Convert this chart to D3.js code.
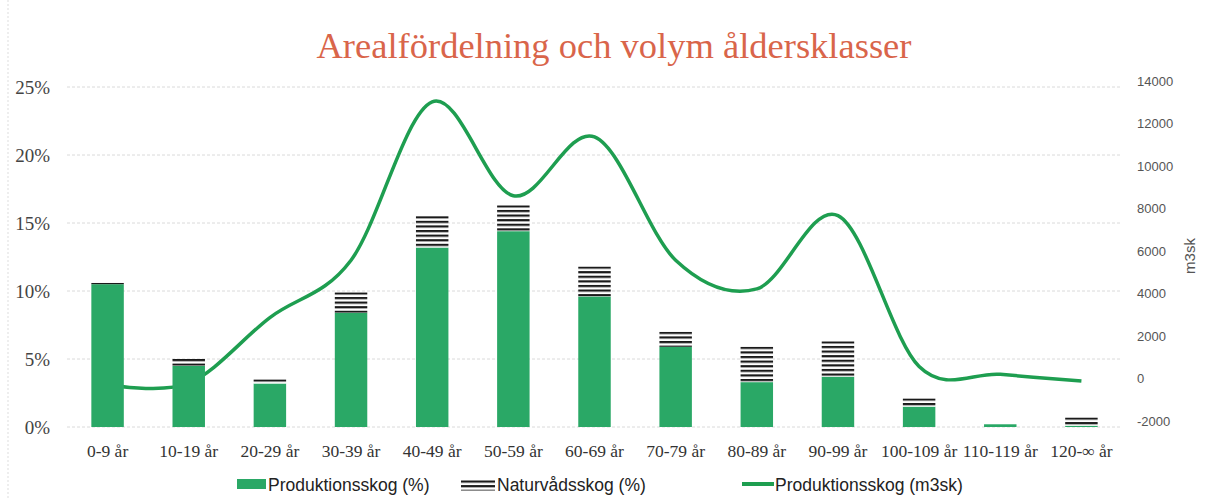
<!DOCTYPE html>
<html>
<head>
<meta charset="utf-8">
<script src="https://cdn.jsdelivr.net/npm/d3@7"></script>
<style>
  body { margin: 0; background: #fff; }
  svg { display: block; }
</style>
</head>
<body>
<div id="chart"></div>
<script>
// data
const categories = ["0-9 år", "10-19 år", "20-29 år", "30-39 år", "40-49 år", "50-59 år", "60-69 år",
  "70-79 år", "80-89 år", "90-99 år", "100-109 år", "110-119 år", "120-∞ år"];
const produktion = [10.5, 4.5, 3.2, 8.4, 13.2, 14.4, 9.6, 5.9, 3.3, 3.7, 1.5, 0.2, 0.1];
const naturvard = [0.1, 0.5, 0.3, 1.5, 2.3, 1.9, 2.2, 1.1, 2.6, 2.6, 0.6, 0.0, 0.6];
const volym = [0, 60, 3150, 5850, 13300, 8880, 11650, 5850, 4500, 7950, 850, 480, 160];
const leftTicks = [0, 5, 10, 15, 20, 25];
const rightTicks = [-2000, 0, 2000, 4000, 6000, 8000, 10000, 12000, 14000];

const width = 1211, height = 499;
const margin = { top: 87, right: 89, bottom: 72, left: 67 };
const serif = "'Liberation Serif', 'Times New Roman', serif";
const sans = "'Liberation Sans', Arial, sans-serif";
const green = "#2aa866";
const lineGreen = "#1e9e50";
const stripeStep = 4.6;

const svg = d3.select("#chart")
  .append("svg")
  .attr("width", width)
  .attr("height", height);

const defs = svg.append("defs");

// one stripe pattern per bar so the stripes start with black at the top of the segment
function addStripes(id, y0) {
  const pat = defs.append("pattern")
    .attr("id", id)
    .attr("patternUnits", "userSpaceOnUse")
    .attr("patternTransform", `translate(0,${y0})`)
    .attr("width", 8)
    .attr("height", stripeStep);
  pat.append("rect").attr("width", 8).attr("height", stripeStep).attr("fill", "#fff");
  pat.append("rect").attr("width", 8).attr("height", 2.2).attr("fill", "#1a1a1a");
}

// faint frame line on the left
svg.append("line")
  .attr("x1", 8).attr("x2", 8).attr("y1", 0).attr("y2", height)
  .attr("stroke", "#ddd").attr("stroke-dasharray", "2,2");

const x = d3.scaleBand()
  .domain(categories)
  .range([margin.left, width - margin.right])
  .paddingInner(0.6)
  .paddingOuter(0.3);

const yLeft = d3.scaleLinear()
  .domain([0, 25])
  .range([height - margin.bottom, margin.top]);

const yRight = d3.scaleLinear()
  .domain([-2000, 14000])
  .range([height - margin.bottom, margin.top]);

// title
svg.append("text")
  .attr("x", 614)
  .attr("y", 58)
  .attr("text-anchor", "middle")
  .style("font-family", serif)
  .style("font-size", "36.5px")
  .style("fill", "#d9654a")
  .text("Arealfördelning och volym åldersklasser");

// gridlines
svg.append("g")
  .selectAll("line")
  .data(leftTicks)
  .join("line")
  .attr("x1", margin.left)
  .attr("x2", width - margin.right)
  .attr("y1", (d) => yLeft(d))
  .attr("y2", (d) => yLeft(d))
  .attr("stroke", "#d6d6d6")
  .attr("stroke-width", 0.9)
  .attr("stroke-dasharray", "3,2");

// left axis
const leftAxis = svg.append("g")
  .attr("transform", `translate(${margin.left - 14},0)`)
  .call(d3.axisLeft(yLeft).tickValues(leftTicks).tickSize(0).tickFormat((d) => d + "%"));
leftAxis.select(".domain").remove();
leftAxis.selectAll("text")
  .style("font-family", serif)
  .style("font-size", "19px")
  .style("fill", "#444");

// right axis
const rightAxis = svg.append("g")
  .attr("transform", `translate(${width - margin.right + 12},0)`)
  .call(d3.axisRight(yRight).tickValues(rightTicks).tickSize(0).tickFormat((d) => d));
rightAxis.select(".domain").remove();
rightAxis.selectAll("text")
  .attr("dy", "-0.15em")
  .style("font-family", sans)
  .style("font-size", "13px")
  .style("fill", "#555");

svg.append("text")
  .attr("transform", `translate(1195,256) rotate(-90)`)
  .attr("text-anchor", "middle")
  .style("font-family", sans)
  .style("font-size", "15px")
  .style("fill", "#555")
  .text("m3sk");

// category labels
const bottomAxis = svg.append("g")
  .attr("transform", `translate(0,${height - margin.bottom + 12})`)
  .call(d3.axisBottom(x).tickSize(0));
bottomAxis.select(".domain").remove();
bottomAxis.selectAll("text")
  .attr("dy", "0.85em")
  .style("font-family", serif)
  .style("font-size", "17.5px")
  .style("fill", "#333");

// line (drawn under the bars)
const line = d3.line()
  .x((d, i) => x(categories[i]) + x.bandwidth() / 2)
  .y((d) => yRight(d))
  .curve(d3.curveCardinal.tension(0));

svg.append("path")
  .datum(volym)
  .attr("d", line)
  .attr("fill", "none")
  .attr("stroke", lineGreen)
  .attr("stroke-width", 3.5);

// stacked bars
const bars = svg.append("g");
bars.selectAll("rect.prod")
  .data(produktion)
  .join("rect")
  .attr("class", "prod")
  .attr("x", (d, i) => x(categories[i]))
  .attr("width", x.bandwidth())
  .attr("y", (d) => yLeft(d))
  .attr("height", (d) => yLeft(0) - yLeft(d))
  .attr("fill", green);

naturvard.forEach((d, i) => {
  if (d <= 0) return;
  const top = yLeft(produktion[i] + d);
  addStripes(`stripes-${i}`, top);
  bars.append("rect")
    .attr("class", "nat")
    .attr("x", x(categories[i]))
    .attr("width", x.bandwidth())
    .attr("y", top)
    .attr("height", yLeft(0) - yLeft(d))
    .attr("fill", `url(#stripes-${i})`);
});

// legend
const legend = svg.append("g").attr("transform", "translate(0,484)");
const legendFont = (sel) => sel
  .style("font-family", sans)
  .style("font-size", "17.5px")
  .style("fill", "#222");

legend.append("rect").attr("x", 237).attr("y", -5).attr("width", 29).attr("height", 10).attr("fill", green);
legend.append("text").attr("x", 268).attr("y", 6.5).text("Produktionsskog (%)").call(legendFont);

addStripes("stripes-legend", 479.5);
legend.append("rect").attr("x", 461).attr("y", -4.5).attr("width", 34).attr("height", 11).attr("fill", "url(#stripes-legend)");
legend.append("text").attr("x", 497).attr("y", 6.5).text("Naturvådsskog (%)").call(legendFont);

legend.append("line").attr("x1", 742).attr("x2", 774).attr("y1", 0).attr("y2", 0)
  .attr("stroke", lineGreen).attr("stroke-width", 4);
legend.append("text").attr("x", 775).attr("y", 6.5).text("Produktionsskog (m3sk)").call(legendFont);
</script>
</body>
</html>
